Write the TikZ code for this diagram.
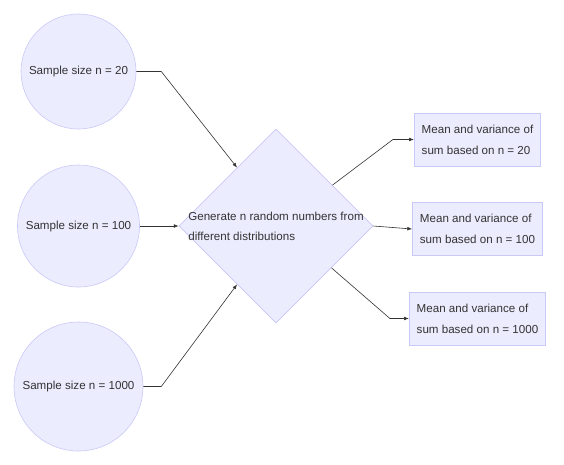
\documentclass[tikz,border=0pt]{standalone}
\usepackage{fontspec}
\setmainfont{Liberation Sans}
\usepackage{xcolor}
\usepackage{tikz}
\usetikzlibrary{arrows.meta,calc,shapes.geometric}
\definecolor{flowfill}{HTML}{ECECFF}
\definecolor{flowedge}{HTML}{C9C9F7}
\definecolor{flowtext}{HTML}{333333}
\tikzset{
  >={Latex[length=1.7mm,width=1.3mm]},
  samplenode/.style={circle,draw=flowedge,fill=flowfill,line width=0.6pt,
                     font=\fontsize{11.6}{14}\selectfont,text=flowtext,
                     inner sep=0pt},
  gennode/.style={diamond,draw=flowedge,fill=flowfill,line width=0.6pt,
                  minimum width=194pt,minimum height=194pt,inner sep=0pt},
  gentext/.style={align=left,font=\fontsize{11.6}{20}\selectfont,text=flowtext},
  resultnode/.style={rectangle,draw=flowedge,fill=flowfill,line width=0.6pt,
                     align=left,font=\fontsize{11.6}{21}\selectfont,text=flowtext,
                     inner xsep=7.5pt,minimum height=53pt},
  flowarrow/.style={->,line width=0.6pt,draw=flowtext},
}
\begin{document}
\begin{tikzpicture}[x=1pt,y=1pt]
  \useasboundingbox (0,0) rectangle (564,-464);
  % sample sizes
  \foreach \n/\y/\d in {20/-71.5/115,100/-226/122,1000/-386.5/129}{
    \node[samplenode,minimum size=\d pt] (c\n) at (78.5,\y) {Sample size n = \n};
  }
  \node[gennode,label={[gentext]center:{Generate n random numbers from\\different distributions}}]
    (gen) at (276,-226) {};
  % results
  \foreach \n/\y in {20/-139.5,100/-229,1000/-318.5}{
    \node[resultnode] (m\n) at (477.5,\y) {Mean and variance of\\sum based on n = \n};
  }
  % inputs
  \draw[flowarrow] (c20.east) -- ++(25,0) -- ($(gen.west)!0.6!(gen.north)$);
  \draw[flowarrow] (c100.east) -- (gen.west);
  \draw[flowarrow] (c1000.east) -- ++(18,0) -- ($(gen.west)!0.6!(gen.south)$);
  % outputs
  \draw[flowarrow] ($(gen.north)!0.58!(gen.east)$) -- ([xshift=-21pt]m20.west) -- (m20.west);
  \draw[flowarrow] (gen.east) -- (m100.west);
  \draw[flowarrow] ($(gen.south)!0.57!(gen.east)$) -- ([xshift=-19pt]m1000.west) -- (m1000.west);
\end{tikzpicture}
\end{document}
